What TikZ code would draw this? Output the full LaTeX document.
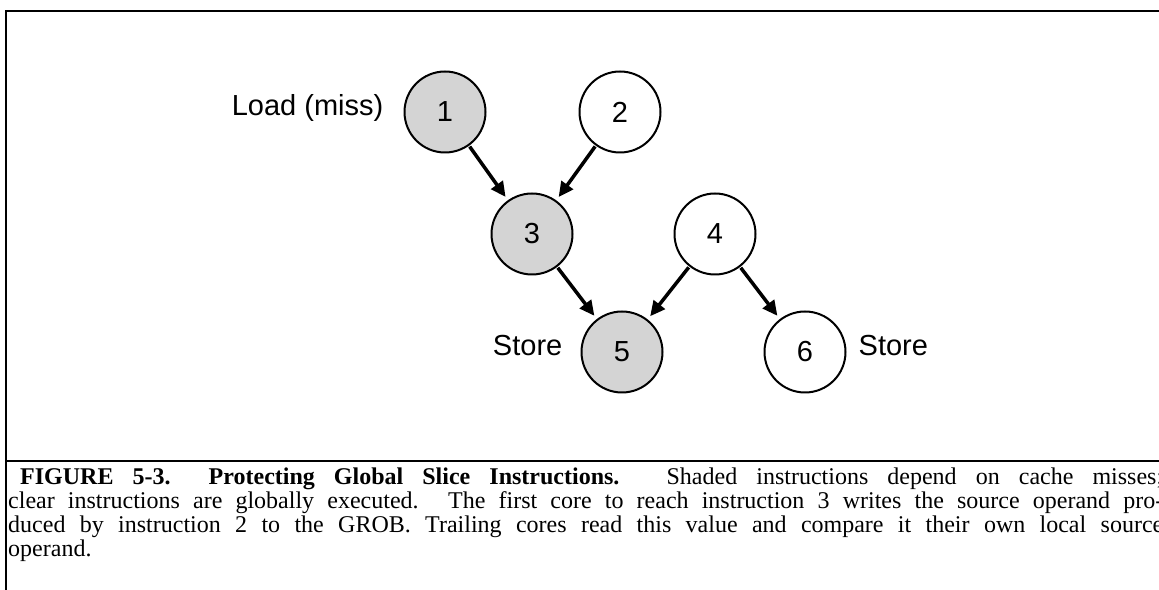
\documentclass[tikz,border=0pt]{standalone}
\usepackage{fontspec}
\setmainfont{Liberation Serif}
\newfontfamily\labelfont{Liberation Sans}
\usetikzlibrary{positioning,arrows.meta}
\begin{document}
\begin{tikzpicture}[x=1pt,y=1pt,
    insn/.style={circle,draw,line width=2pt,minimum size=81pt,inner sep=0pt,
      font=\labelfont\fontsize{29}{34}\selectfont},
    missinsn/.style={insn,fill=black!17},
    globinsn/.style={insn,fill=white},
    tag/.style={inner sep=0pt,text height=0.72em,text depth=0pt,
      font=\labelfont\fontsize{29}{34}\selectfont},
    dep/.style={-{Triangle[length=15pt,width=14pt]},line width=3.5pt,
      shorten <=1pt,shorten >=4pt},
    capline/.style={anchor=base west,inner sep=0pt,
      font=\fontsize{24}{28}\selectfont}]
  \useasboundingbox (0,0) rectangle (1159,589);
  % frame
  \draw[line width=2pt] (6,-2) -- (6,578) -- (1165,578);
  \draw[line width=2pt] (6,128) -- (1165,128);
  % instructions
  \node [missinsn] (i1) at (445,477) {1};
  \node [globinsn] (i2) at (620,477) {2};
  \node [missinsn] (i3) at (532,355) {3};
  \node [globinsn] (i4) at (715,355) {4};
  \node [missinsn] (i5) at (622,237) {5};
  \node [globinsn] (i6) at (805,237) {6};
  \node [tag,left=20pt of i1] (load) {Load (miss)};
  \node [tag,left=18pt of i5] (store5) {Store};
  \node [tag,right=12pt of i6] (store6) {Store};
  \draw [dep] (i1) -- (i3);
  \draw [dep] (i2) -- (i3);
  \draw [dep] (i3) -- (i5);
  \draw [dep] (i4) -- (i5);
  \draw [dep] (i4) -- (i6);
  % caption
  \node [capline] (cap1) at (20,104) {\makebox[1143pt][s]{\textbf{FIGURE 5-3.\ \ Protecting Global Slice Instructions.} Shaded instructions depend on cache misses;}};
  \node [capline] (cap2) at (8,80) {\makebox[1155pt][s]{clear instructions are globally executed. The first core to reach instruction 3 writes the source operand pro-}};
  \node [capline] (cap3) at (8,56) {\makebox[1155pt][s]{duced by instruction 2 to the GROB. Trailing cores read this value and compare it their own local source}};
  \node [capline] (cap4) at (8,32) {operand.};
\end{tikzpicture}
\end{document}
